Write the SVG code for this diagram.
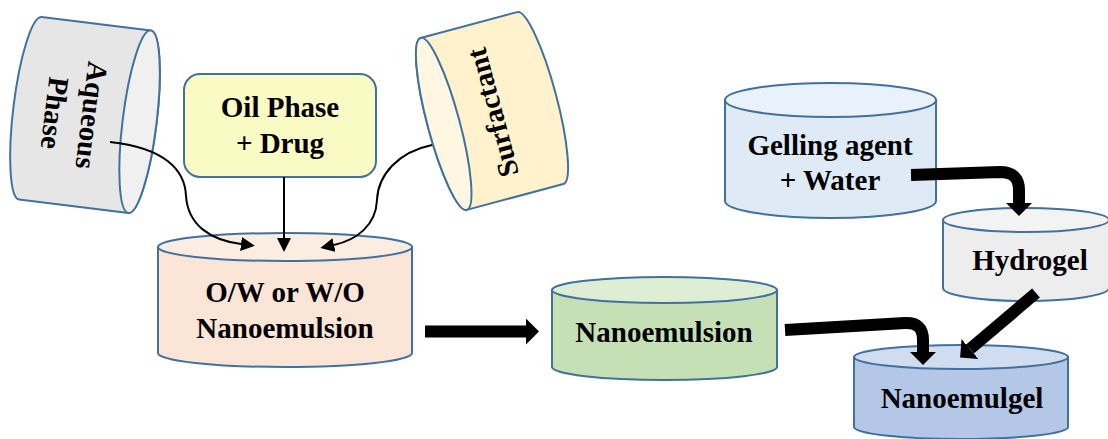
<svg xmlns="http://www.w3.org/2000/svg" width="1108" height="439" viewBox="0 0 1108 439">
<style>
.s{stroke:#41719c;stroke-width:2}
.t{font-family:"Liberation Serif","Times New Roman",serif;font-weight:bold;font-size:29px;fill:#000;text-anchor:middle}
.thin{fill:none;stroke:#000;stroke-width:2}
.thick{fill:none;stroke:#000;stroke-width:12;stroke-linejoin:round}
</style>
<defs>
<marker id="ah" viewBox="0 0 14 14" refX="0" refY="7" markerWidth="14" markerHeight="14" markerUnits="userSpaceOnUse" orient="auto"><path d="M0,0 L14,7 L0,14 Z" fill="#000"/></marker>
<marker id="bh" viewBox="0 0 13 26" refX="0" refY="13" markerWidth="13" markerHeight="26" markerUnits="userSpaceOnUse" orient="auto"><path d="M0,0 L13,13 L0,26 Z" fill="#000"/></marker>
</defs>
<rect width="1108" height="439" fill="#fff"/>

<g id="aqueous">
<g transform="translate(85,115) rotate(7)">
<path class="s" fill="#e7e6e6" d="M-55,-92 L55,-92 A17,92 0 0 1 55,92 L-55,92 A17,92 0 0 1 -55,-92 Z"/>
<ellipse class="s" fill="#f0f0f0" cx="55" cy="0" rx="17" ry="92"/>
</g>
<text class="t" transform="translate(82,114) rotate(97)">Aqueous</text>
<text class="t" transform="translate(45,112) rotate(97)">Phase</text>
</g>

<g id="surfactant">
<g transform="translate(492,111) rotate(-15)">
<path class="s" fill="#fff2cc" d="M-50,-89 L50,-89 A16,89 0 0 1 50,89 L-50,89 A16,89 0 0 1 -50,-89 Z"/>
<ellipse class="s" fill="#fff7e2" cx="-50" cy="0" rx="16" ry="89"/>
</g>
<text class="t" transform="translate(502,110) rotate(-105)">Surfactant</text>
</g>

<g id="oil">
<rect class="s" fill="#fafac5" x="184" y="74" width="192" height="103" rx="16"/>
<text class="t" x="280" y="117">Oil Phase</text>
<text class="t" x="280" y="153">+ Drug</text>
</g>

<g id="ow">
<path class="s" fill="#fbe5d6" d="M158,247 V353 A127,14 0 0 0 412,353 V247 Z"/>
<ellipse class="s" fill="#fcede3" cx="285" cy="247" rx="127" ry="14"/>
<text class="t" x="285" y="302">O/W or W/O</text>
<text class="t" x="285" y="338">Nanoemulsion</text>
</g>

<g id="nanoemulsion">
<path class="s" fill="#c5e0b4" d="M552,290 V367 A112.5,13 0 0 0 777,367 V290 Z"/>
<ellipse class="s" fill="#deeed5" cx="664.5" cy="290" rx="112.5" ry="13"/>
<text class="t" x="664" y="342">Nanoemulsion</text>
</g>

<g id="gelling">
<path class="s" fill="#deebf7" d="M725,100 V201 A105.5,17 0 0 0 936,201 V100 Z"/>
<ellipse class="s" fill="#e9f1fa" cx="830.5" cy="100" rx="105.5" ry="17"/>
<text class="t" x="830" y="155">Gelling agent</text>
<text class="t" x="830" y="190">+ Water</text>
</g>

<g id="hydrogel">
<path class="s" fill="#ededed" d="M943,220 V288 A83,13 0 0 0 1109,288 V220 Z"/>
<ellipse class="s" fill="#f3f3f3" cx="1026" cy="220" rx="83" ry="12"/>
<text class="t" x="1030" y="270">Hydrogel</text>
</g>

<g id="nanoemulgel">
<path class="s" fill="#b4c7e7" d="M854,357 V427 A107,12 0 0 0 1068,427 V357 Z"/>
<ellipse class="s" fill="#d0dcf0" cx="961" cy="357" rx="107" ry="12"/>
<text class="t" x="962" y="408">Nanoemulgel</text>
</g>

<g id="connectors">
<path class="thin" marker-end="url(#ah)" d="M110,142 C165,148 185,170 186,196 C188,225 210,240 241,244"/>
<path class="thin" marker-end="url(#ah)" d="M284,177 L284,238"/>
<path class="thin" marker-end="url(#ah)" d="M432,145 C398,152 378,175 377,200 C376,226 356,240 334,245"/>
<path class="thick" stroke-width="11" marker-end="url(#bh)" d="M425,331.5 H526"/>
<path class="thick" marker-end="url(#bh)" d="M911,175 L1000,172 Q1019,172 1019,190 L1019,203"/>
<path class="thick" marker-end="url(#bh)" d="M785,330 L905,323 Q923,322 923,340 L923,352"/>
<path class="thick" marker-end="url(#bh)" d="M1036,293 L970,349"/>
</g>
</svg>
